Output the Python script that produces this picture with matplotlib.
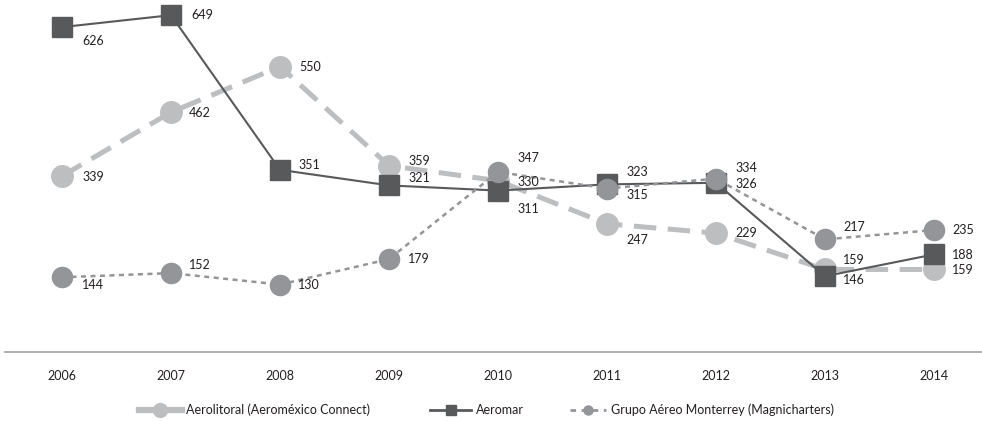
import matplotlib
matplotlib.use("Agg")
import matplotlib.pyplot as plt
from matplotlib.lines import Line2D

# data
years = ["2006", "2007", "2008", "2009", "2010", "2011", "2012", "2013", "2014"]
aerolitoral = [339, 462, 550, 359, 330, 247, 229, 159, 159]
aeromar = [626, 649, 351, 321, 311, 323, 326, 146, 188]
grupo = [144, 152, 130, 179, 347, 315, 334, 217, 235]

names = ["Aerolitoral (Aeroméxico Connect)", "Aeromar",
         "Grupo Aéreo Monterrey (Magnicharters)"]

# label offsets in pixels (dx, dy) for each point, dy positive = down
off_aerolitoral = [(20, 1), (18, 1), (19, 0), (19, -5), (19, 1), (19, 16), (19, 0), (18, -9), (18, 1)]
off_aeromar = [(20, 14), (20, 0), (18, -5), (19, -7), (19, 18), (19, -12), (19, 1), (18, 4), (18, 1)]
off_grupo = [(20, 8), (18, -8), (18, 0), (19, 0), (19, -14), (19, 6), (19, -11), (18, -12), (18, 0)]

plt.rcParams["font.family"] = ["Lato", "DejaVu Sans"]

c_light = "#bcbec0"
c_dark = "#58595b"
c_mid = "#939598"
c_text = "#231f20"

fig = plt.figure(figsize=(9.82, 4.21), dpi=100)
ax = fig.add_axes([5 / 982, 1 - 352 / 421, 977 / 982, 352 / 421])

x = list(range(len(years)))

ax.plot(x, aerolitoral, color=c_light, lw=3.6, dashes=(4.5, 2.3),
        marker="o", ms=15.5, zorder=2)
ax.plot(x, aeromar, color=c_dark, lw=1.5, linestyle="-",
        marker="s", ms=14, zorder=3)
ax.plot(x, grupo, color=c_mid, lw=1.8, dashes=(2, 1.8),
        marker="o", ms=14.5, zorder=4)

for series, offs in [(aerolitoral, off_aerolitoral), (aeromar, off_aeromar), (grupo, off_grupo)]:
    for xi, v, (dx, dy) in zip(x, series, offs):
        ax.annotate(str(v), (xi, v), xytext=(dx * 0.72, -dy * 0.72),
                    textcoords="offset points", ha="left", va="center",
                    fontsize=9, color=c_text, zorder=6)

ax.set_xlim((5 - 62) / 109, (982 - 62) / 109)
ax.set_ylim(0, 352 / 0.519)
ax.set_xticks(x)
ax.set_xticklabels(years, fontsize=9, color=c_text)
ax.tick_params(axis="x", length=0, pad=13)
ax.set_yticks([])
for s in ["top", "right", "left"]:
    ax.spines[s].set_visible(False)
ax.spines["bottom"].set_color("#a7a9ac")
ax.spines["bottom"].set_linewidth(1.3)

# legend handles drawn a bit differently from the plot lines (as in the original)
h1 = Line2D([], [], color=c_light, lw=4.5, marker="o", ms=10)
h2 = Line2D([], [], color=c_dark, lw=2, marker="s", ms=7.5)
h3 = Line2D([], [], color=c_mid, lw=2, dashes=(2, 2), marker="o", ms=6.5)

# one legend per entry so the spacing matches the original
leg_y = 1 - 410 / 421
for h, name, xpx, hl in [(h1, names[0], 139, 3.4), (h2, names[1], 430, 3.3), (h3, names[2], 570, 2.9)]:
    leg = fig.legend(handles=[h], labels=[name], loc="center left",
                     bbox_to_anchor=(xpx / 982, leg_y), frameon=False,
                     fontsize=9, handlelength=hl,
                     handletextpad=0.4, borderpad=0, borderaxespad=0)
    for t in leg.get_texts():
        t.set_color(c_text)

fig.savefig("out.png", dpi=100)
